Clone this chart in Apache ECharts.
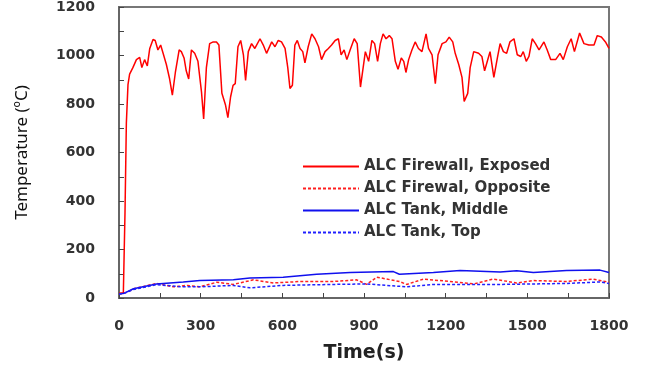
<!DOCTYPE html>
<html>
<head>
<meta charset="utf-8">
<script src="https://cdn.jsdelivr.net/npm/echarts@6/dist/echarts.min.js"></script>
<style>
  html, body { margin: 0; padding: 0; background: #fff; }
  #chart { width: 645px; height: 368px; }
</style>
</head>
<body>
<div id="chart"></div>
<script>
// Firewall, exposed side
const exposedTime = [0, 16, 22, 27, 33, 39, 51, 64, 76, 84, 94, 104, 113, 125, 133, 143, 153, 162, 174, 186, 196, 207, 221, 229, 239, 247, 256, 266, 278, 290, 303, 311, 321, 333, 346, 358, 367, 378, 391, 400, 410, 419, 427, 437, 447,
    457, 465, 475, 487, 499, 518, 530, 542, 561, 573, 585, 597, 610, 620, 628, 637, 646, 655, 665, 675, 683, 695, 708, 720, 733, 744, 757, 769, 781, 794, 806, 816, 827, 837, 849, 864, 875, 887,
    905, 917, 929, 939, 950, 960, 970, 981, 993, 1003, 1015, 1025, 1037, 1046, 1054, 1064, 1076, 1088, 1100, 1113, 1128, 1137, 1150, 1162, 1172, 1187, 1201, 1213, 1226, 1235, 1248, 1260, 1268, 1281, 1290, 1303, 1321, 1333,
    1343, 1353, 1363, 1377, 1390, 1400, 1412, 1424, 1436, 1451, 1463, 1476, 1485, 1496, 1506, 1518, 1530, 1543, 1561, 1573, 1586, 1604, 1620, 1632, 1647, 1661, 1673, 1692, 1708, 1726, 1745, 1757, 1772, 1787, 1800];
const exposedTemp = [20, 22, 350, 720, 880, 923, 950, 983, 992, 950, 983, 957, 1029, 1066, 1062, 1023, 1043, 1009, 963, 903, 837, 930, 1023, 1016, 990, 937, 903, 1023, 1009, 976, 850, 738, 950, 1049, 1056, 1056, 1043, 844, 797, 744, 830, 877, 884, 1036, 1062,
    1003, 897, 1016, 1049, 1029, 1069, 1043, 1009, 1056, 1036, 1062, 1056, 1029, 950, 864, 877, 1043, 1062, 1029, 1016, 970, 1036, 1089, 1069, 1036, 983, 1016, 1029, 1043, 1062, 1069, 1003, 1023, 983, 1023, 1069, 1049, 870,
    1016, 976, 1062, 1049, 976, 1049, 1089, 1069, 1082, 1069, 976, 943, 990, 976, 930, 983, 1023, 1056, 1029, 1016, 1089, 1029, 1003, 884, 1003, 1049, 1056, 1076, 1056, 1009, 963, 910, 811, 844, 950, 1016, 1009, 996,
    937, 976, 1016, 910, 990, 1049, 1016, 1009, 1056, 1069, 1003, 996, 1016, 976, 996, 1069, 1049, 1023, 1056, 1023, 983, 983, 1009, 983, 1036, 1069, 1016, 1093, 1049, 1043, 1043, 1082, 1076, 1056, 1029];

// Firewall, opposite side
const oppositeTime = [0, 20, 60, 138, 200, 250, 297, 359, 420, 494, 567, 665, 787, 873, 910, 947, 1030, 1057, 1118, 1216, 1302, 1375, 1461, 1522, 1644, 1742, 1800];
const oppositeTemp = [16, 20, 40, 60, 46, 52, 46, 65, 56, 75, 62, 68, 68, 75, 56, 86, 68, 56, 78, 68, 58, 78, 62, 72, 68, 78, 65];

// Tank, middle
const middleTime = [0, 20, 53, 138, 236, 297, 420, 481, 603, 726, 849, 1008, 1030, 1155, 1253, 1400, 1461, 1522, 1644, 1767, 1800];
const middleTemp = [16, 20, 38, 58, 66, 72, 75, 82, 86, 98, 105, 109, 98, 105, 113, 107, 112, 105, 113, 115, 105];

// Tank, top
const topTime = [0, 20, 53, 138, 236, 297, 420, 481, 603, 787, 910, 1057, 1155, 1277, 1400, 1522, 1644, 1767, 1800];
const topTemp = [16, 20, 35, 55, 46, 46, 52, 42, 52, 56, 58, 46, 56, 56, 56, 58, 60, 66, 60];

const seriesNames = ['ALC Firewall, Exposed', 'ALC Firewal, Opposite', 'ALC Tank, Middle', 'ALC Tank, Top'];

const pairs = (xs, ys) => xs.map((x, i) => [x, ys[i]]);

const chart = echarts.init(document.getElementById('chart'));

const labelFont = {
    color: '#333',
    fontFamily: 'DejaVu Sans',
    fontWeight: 'bold',
    fontSize: 14,
    formatter: v => String(v)
};

const lineSeries = (name, data, color, dashed) => ({
    name: name,
    type: 'line',
    data: data,
    symbol: 'none',
    animation: false,
    lineStyle: {
        color: color,
        width: 1.5,
        type: dashed ? [3, 2] : 'solid'
    },
    itemStyle: {color: color}
});

const option = {
    backgroundColor: '#fff',
    animation: false,
    grid: {
        left: 119,
        right: 36,
        top: 7,
        bottom: 59,
        show: true,
        borderColor: '#777',
        borderWidth: 2
    },
    legend: {
        orient: 'vertical',
        left: 297,
        top: 154,
        itemWidth: 56,
        itemHeight: 14,
        itemGap: 7,
        itemStyle: {opacity: 0},
        textStyle: {
            color: '#333',
            fontFamily: 'DejaVu Sans',
            fontWeight: 'bold',
            fontSize: 15
        },
        data: seriesNames
    },
    xAxis: {
        type: 'value',
        min: 0,
        max: 1800,
        interval: 300,
        name: 'Time(s)',
        nameLocation: 'middle',
        nameGap: 46,
        nameTextStyle: {
            color: '#222',
            fontFamily: 'DejaVu Sans',
            fontWeight: 'bold',
            fontSize: 19
        },
        axisLine: {lineStyle: {color: '#666', width: 2}},
        axisTick: {inside: true, length: 5, lineStyle: {color: '#444'}},
        minorTick: {show: true, splitNumber: 2, length: 5, lineStyle: {color: '#444'}},
        axisLabel: Object.assign({margin: 21}, labelFont),
        splitLine: {show: false}
    },
    yAxis: {
        type: 'value',
        min: 0,
        max: 1200,
        interval: 200,
        name: 'Temperature (ºC)',
        nameLocation: 'middle',
        nameGap: 88,
        nameRotate: 90,
        nameTextStyle: {
            color: '#111',
            fontFamily: 'Noto Sans',
            fontSize: 17
        },
        axisLine: {lineStyle: {color: '#666', width: 2}},
        axisTick: {inside: true, length: 5, lineStyle: {color: '#444'}},
        minorTick: {show: true, splitNumber: 2, length: 5, lineStyle: {color: '#444'}},
        axisLabel: Object.assign({margin: 24}, labelFont),
        splitLine: {show: false}
    },
    series: [
        lineSeries(seriesNames[0], pairs(exposedTime, exposedTemp), '#ff0000', false),
        lineSeries(seriesNames[1], pairs(oppositeTime, oppositeTemp), '#ff2020', true),
        lineSeries(seriesNames[2], pairs(middleTime, middleTemp), '#1010ee', false),
        lineSeries(seriesNames[3], pairs(topTime, topTemp), '#2020ff', true)
    ]
};

chart.setOption(option);
</script>
</body>
</html>
